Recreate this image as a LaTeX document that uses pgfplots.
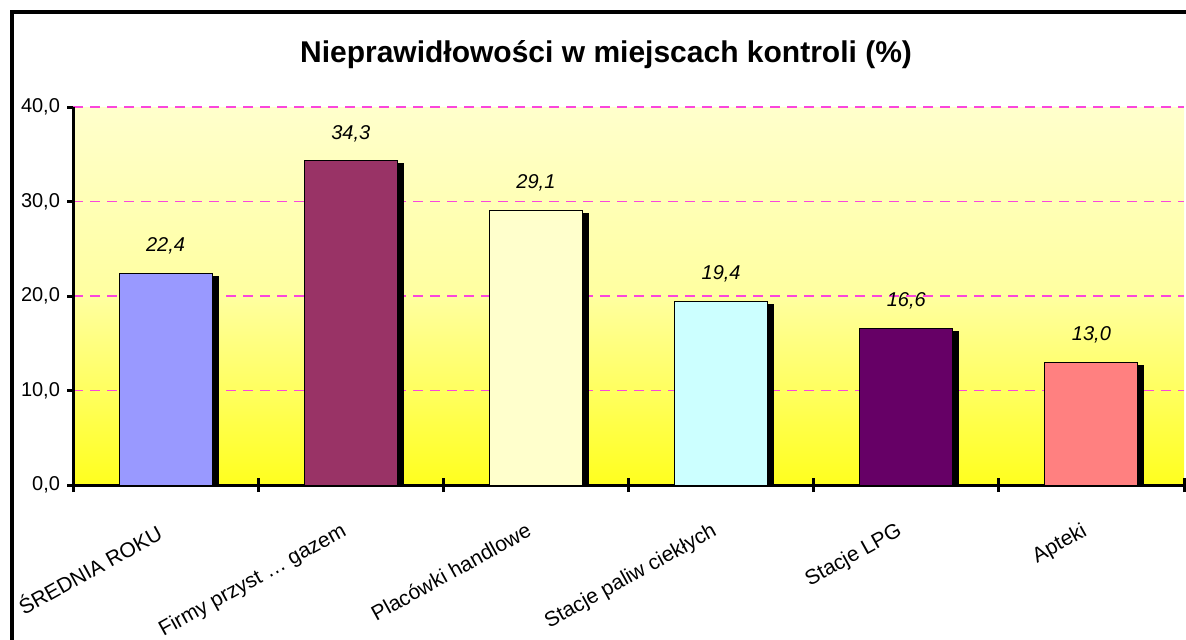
\documentclass[border=0pt]{standalone}
\usepackage{fontspec}
\setmainfont{Liberation Sans}
\usepackage{pgfplots}
\pgfplotsset{compat=1.18}
\usetikzlibrary{shadows}

\definecolor{gridmag}{RGB}{250,70,220}
\definecolor{bgtop}{RGB}{255,255,204}
\definecolor{bgmid}{RGB}{255,255,160}
\definecolor{bgbot}{RGB}{255,255,30}
\definecolor{c1}{RGB}{153,153,255}
\definecolor{c2}{RGB}{153,51,102}
\definecolor{c3}{RGB}{255,255,204}
\definecolor{c4}{RGB}{204,255,255}
\definecolor{c5}{RGB}{102,0,102}
\definecolor{c6}{RGB}{255,128,128}

\pgfplotsset{
  bars/.style={fill=#1, draw=black, line width=0.5pt,
    drop shadow={shadow xshift=3pt, shadow yshift=-1.5pt, opacity=1, fill=black}},
}

\begin{document}
\begin{tikzpicture}
\useasboundingbox (0,0) rectangle (593pt,319.5pt);
\draw[line width=2pt] (6pt,-2pt) -- (6pt,313.5pt) -- (600pt,313.5pt);
\node[font=\bfseries\fontsize{15}{18}\selectfont] at (303pt,292pt)
  {Nieprawidłowości w miejscach kontroli (\%)};
\begin{axis}[
  at={(36.5pt,77pt)}, anchor=south west,
  scale only axis, width=555.5pt, height=189pt,
  ybar, bar width=46.5pt, bar shift=0pt,
  xmin=-0.5, xmax=5.5, ymin=0, ymax=40,
  axis x line*=bottom, axis y line*=left,
  axis line style={line width=1.5pt},
  axis background/.style={top color=bgtop, bottom color=bgbot, middle color=bgmid},
  ytick={0,10,20,30,40},
  ymajorgrids,
  major grid style={gridmag, line width=0.6pt, dash pattern=on 5pt off 3.5pt},
  xtick={0,...,5},
  xticklabels={ŚREDNIA ROKU, Firmy przyst … gazem, Placówki handlowe,
    Stacje paliw ciekłych, Stacje LPG, Apteki},
  minor xtick={-0.5,0.5,1.5,2.5,3.5,4.5,5.5},
  major x tick style={draw=none},
  minor x tick style={black, line width=1.5pt},
  major y tick style={black, line width=1.5pt},
  minor tick length=7pt, major tick length=3pt,
  xtick align=center, ytick align=outside,
  tick label style={font=\fontsize{10}{12}\selectfont},
  xticklabel style={font=\fontsize{10.5}{12}\selectfont,
    xshift=-4pt, yshift=-12pt, rotate=29, anchor=north east},
  /pgf/number format/.cd, fixed, fixed zerofill, precision=1, use comma,
    assume math mode=true,
  /pgfplots/.cd,
  nodes near coords,
  every node near coord/.append style={font=\itshape\fontsize{10}{12}\selectfont,
    black, yshift=6pt},
]
\addplot[bars=c1] coordinates {(0,22.4)};
\addplot[bars=c2] coordinates {(1,34.3)};
\addplot[bars=c3] coordinates {(2,29.1)};
\addplot[bars=c4] coordinates {(3,19.4)};
\addplot[bars=c5] coordinates {(4,16.6)};
\addplot[bars=c6] coordinates {(5,13.0)};
\end{axis}
\end{tikzpicture}
\end{document}
